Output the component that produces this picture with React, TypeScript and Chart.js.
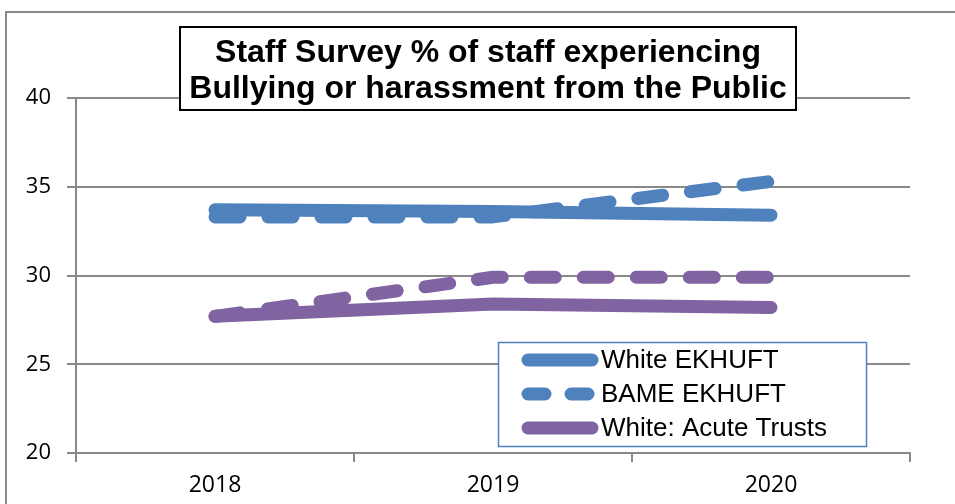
import React, { useEffect, useRef } from "react";
import { Chart, registerables } from "chart.js";

Chart.register(...registerables);

const categories = ["2018", "2019", "2020"];
const whiteEkhuft = [33.7, 33.6, 33.4];
const bameEkhuft = [33.3, 33.3, 35.3];
const whiteAcute = [27.7, 28.4, 28.2];
const bameAcute = [27.7, 29.9, 29.9];
const titleLines = ["Staff Survey % of staff experiencing", "Bullying or harassment from the Public"];
const legendLabels = ["White EKHUFT", "BAME EKHUFT", "White: Acute Trusts"];

const BLUE = "#4F81BD";
const PURPLE = "#8064A2";
const GRID = "#898989";

const decorPlugin = {
  id: "decor",
  afterDraw(chart: any) {
    const ctx = chart.ctx as CanvasRenderingContext2D;
    ctx.save();
    // outer frame
    ctx.strokeStyle = GRID;
    ctx.lineWidth = 2;
    ctx.beginPath();
    ctx.moveTo(6, 510);
    ctx.lineTo(6, 12);
    ctx.lineTo(960, 12);
    ctx.stroke();

    // title box
    ctx.fillStyle = "#ffffff";
    ctx.fillRect(180, 27, 616, 83);
    ctx.strokeStyle = "#000000";
    ctx.lineWidth = 2;
    ctx.strokeRect(180, 27, 616, 83);
    ctx.fillStyle = "#000000";
    ctx.font = "bold 32px 'Liberation Sans', Arial, sans-serif";
    ctx.textAlign = "center";
    ctx.textBaseline = "middle";
    ctx.fillText(titleLines[0], 488, 53);
    ctx.fillText(titleLines[1], 488, 89);

    // legend box
    ctx.fillStyle = "#ffffff";
    ctx.fillRect(498, 342, 368, 104);
    ctx.strokeStyle = BLUE;
    ctx.lineWidth = 1.5;
    ctx.strokeRect(498.5, 342.5, 368, 104);

    const rows = [360, 394, 428];
    const colors = [BLUE, BLUE, PURPLE];
    const dashes = [[], [17, 26], []];
    ctx.lineCap = "round";
    for (let i = 0; i < 3; i++) {
      ctx.strokeStyle = colors[i];
      ctx.lineWidth = 13;
      ctx.setLineDash(dashes[i]);
      ctx.beginPath();
      ctx.moveTo(528, rows[i]);
      ctx.lineTo(592, rows[i]);
      ctx.stroke();
    }
    ctx.setLineDash([]);
    ctx.fillStyle = "#000000";
    ctx.font = "26px 'Liberation Sans', Arial, sans-serif";
    ctx.textAlign = "left";
    ctx.textBaseline = "middle";
    for (let i = 0; i < 3; i++) {
      ctx.fillText(legendLabels[i], 601, rows[i] + 1);
    }
    ctx.restore();
  },
};

export default function App() {
  const ref = useRef<HTMLCanvasElement>(null);
  useEffect(() => {
    if (!ref.current) return;
    const lineCommon = {
      borderWidth: 13,
      borderCapStyle: "round" as const,
      borderJoinStyle: "round" as const,
      pointRadius: 0,
      pointHoverRadius: 0,
      tension: 0,
      fill: false,
    };
    const chart = new Chart(ref.current, {
      type: "line",
      data: {
        labels: categories,
        datasets: [
          { label: "BAME: Acute Trusts", data: bameAcute, borderColor: PURPLE, backgroundColor: PURPLE, borderDash: [25, 28], ...lineCommon },
          { label: "White: Acute Trusts", data: whiteAcute, borderColor: PURPLE, backgroundColor: PURPLE, ...lineCommon },
          { label: "BAME EKHUFT", data: bameEkhuft, borderColor: BLUE, backgroundColor: BLUE, borderDash: [25, 28], ...lineCommon },
          { label: "White EKHUFT", data: whiteEkhuft, borderColor: BLUE, backgroundColor: BLUE, ...lineCommon },
        ],
      },
      options: {
        responsive: false,
        animation: false,
        layout: { padding: { top: 98, right: 45, left: 0, bottom: 0 } },
        plugins: { legend: { display: false }, title: { display: false }, tooltip: { enabled: false } },
        scales: {
          x: {
            offset: true,
            afterFit: (s: any) => { s.height = 51; },
            grid: { offset: true, drawOnChartArea: false, tickLength: 9, color: GRID, lineWidth: 2 },
            border: { display: true, color: GRID, width: 2 },
            ticks: { color: "#000", padding: 10, font: { family: "'Open Sans', sans-serif", size: 23 } },
          },
          y: {
            min: 20,
            max: 40,
            afterFit: (s: any) => { s.width = 76; },
            grid: { tickLength: 9, color: GRID, lineWidth: 2 },
            border: { display: true, color: GRID, width: 2 },
            ticks: { stepSize: 5, color: "#000", padding: 16, font: { family: "'Open Sans', sans-serif", size: 22 } },
          },
        },
      },
      plugins: [decorPlugin],
    });
    return () => chart.destroy();
  }, []);
  return (
    <div style={{ position: "fixed", left: 0, top: 0, width: 955, height: 504, background: "#fff" }}>
      <canvas ref={ref} width={955} height={504} style={{ width: 955, height: 504 }} />
    </div>
  );
}
